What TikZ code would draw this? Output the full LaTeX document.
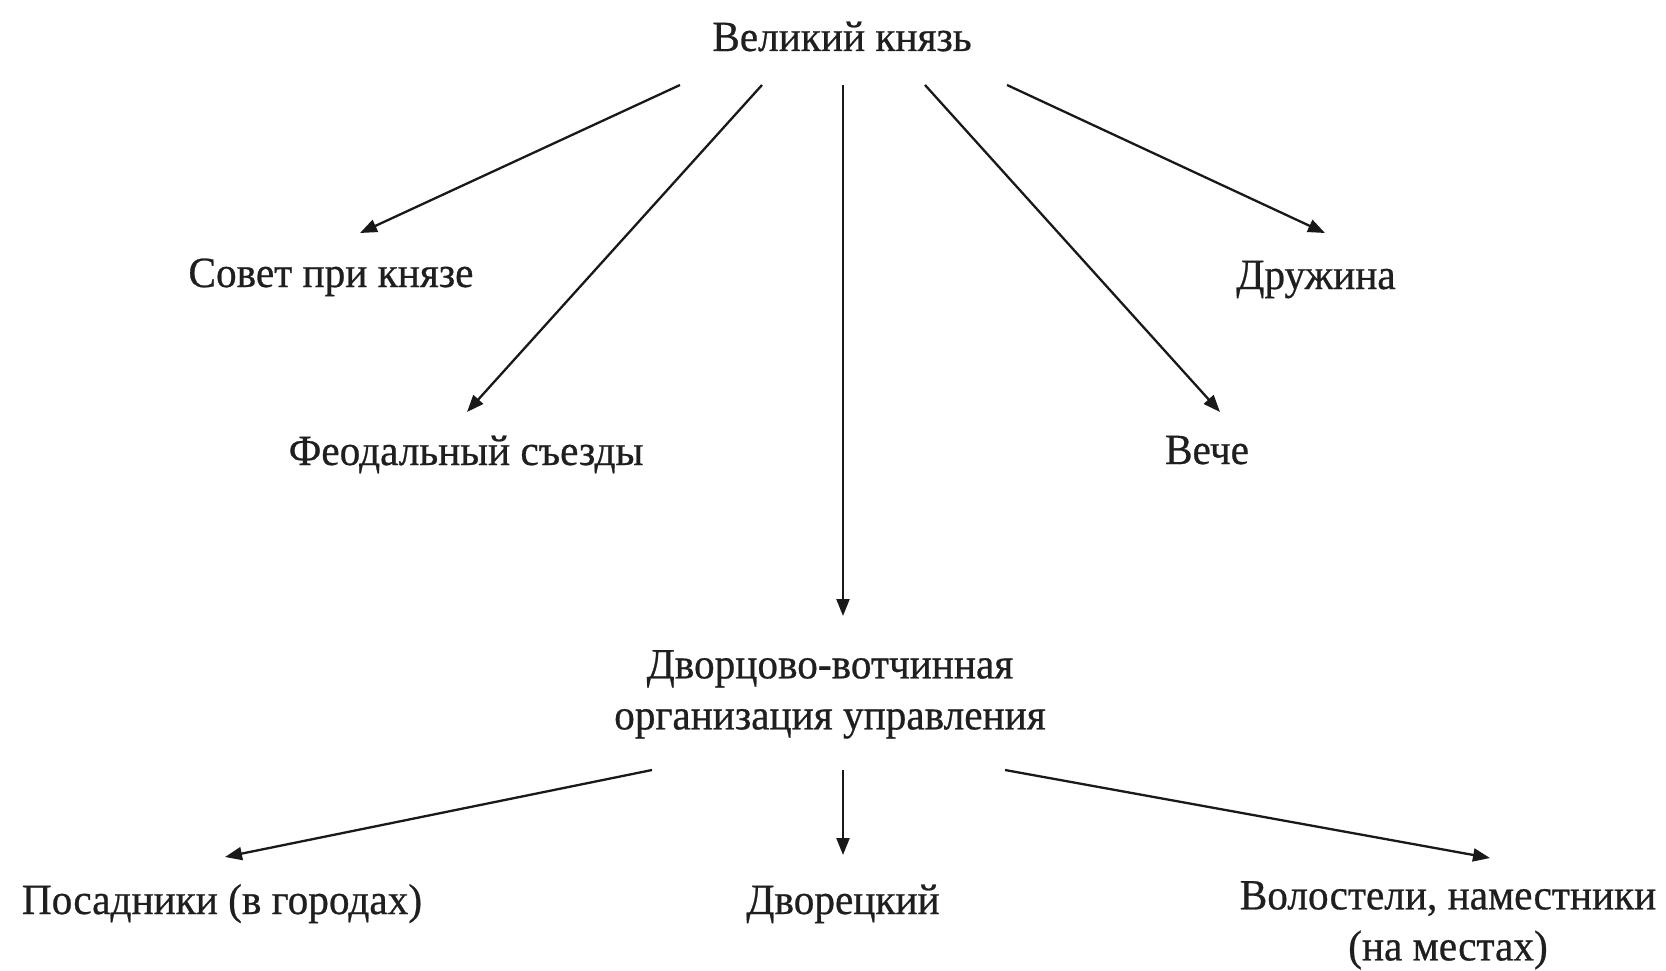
\documentclass[tikz,border=0pt]{standalone}
\usepackage{fontspec}
\setmainfont[FakeStretch=0.96,FakeBold=0.6]{Liberation Serif}
\usetikzlibrary{arrows.meta}
\begin{document}
\begin{tikzpicture}[x=1pt,y=-1pt,
  lbl/.style={inner sep=0pt, font=\fontsize{43}{51}\selectfont, text=black!88, anchor=base},
  lbltwo/.style={inner sep=0pt, font=\fontsize{43}{51}\selectfont, text=black!88, anchor=north, align=center},
  arr/.style={line width=2.3pt, draw=black!90, -{Triangle[length=17pt,width=13pt]}}]
\useasboundingbox[fill=white] (0,0) rectangle (1666,971);
% nodes
\node[lbl] (top) at (842,51) {Великий князь};
\node[lbl] (sovet) at (331,287) {Совет при князе};
\node[lbl] (druzh) at (1316,289) {Дружина};
\node[lbl] (feod) at (466,465) {Феодальный съезды};
\node[lbl] (veche) at (1207,464) {Вече};
\node[lbltwo] (dvorc) at (830,650) {Дворцово-вотчинная\\организация управления};
\node[lbl] (posad) at (222,914) {Посадники (в городах)};
\node[lbl] (dvoreck) at (843,914) {Дворецкий};
\node[lbltwo] (volost) at (1448,881) {Волостели, наместники\\(на местах)};
% connector ends
\coordinate (t1) at (680,85);
\coordinate (t2) at (762,85);
\coordinate (t3) at (843,85);
\coordinate (t4) at (925,85);
\coordinate (t5) at (1007,85);
\coordinate (e1) at (360,233);
\coordinate (e2) at (467,412);
\coordinate (e3) at (843,616);
\coordinate (e4) at (1220,412);
\coordinate (e5) at (1325,233);
\coordinate (d1) at (652,770);
\coordinate (d2) at (843,770);
\coordinate (d3) at (1005,770);
\coordinate (f1) at (225,857);
\coordinate (f2) at (843,855);
\coordinate (f3) at (1490,858);
% connectors
\draw[arr] (t1) -- (e1);
\draw[arr] (t2) -- (e2);
\draw[arr] (t3) -- (e3);
\draw[arr] (t4) -- (e4);
\draw[arr] (t5) -- (e5);
\draw[arr] (d1) -- (f1);
\draw[arr] (d2) -- (f2);
\draw[arr] (d3) -- (f3);
\end{tikzpicture}
\end{document}
